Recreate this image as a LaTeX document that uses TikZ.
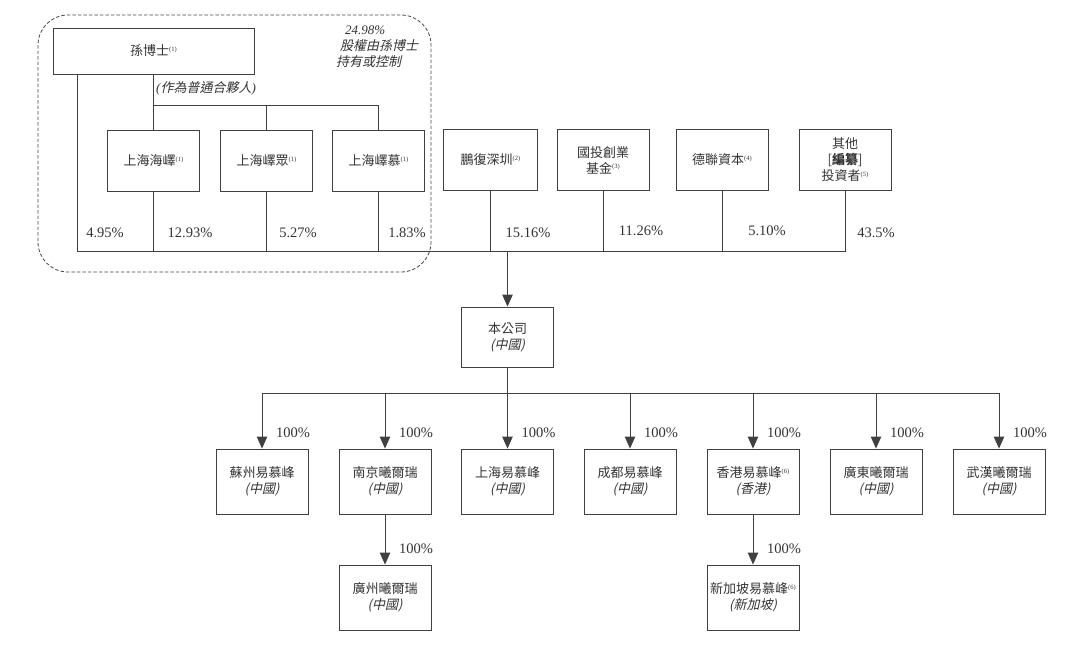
\documentclass[tikz,border=0pt]{standalone}
\usepackage{fontspec}
\setmainfont{Liberation Serif}
\newfontfamily\cjk{Noto Sans CJK TC}
\newfontfamily\cjkit{Noto Sans CJK TC}[FakeSlant=0.22]
\usetikzlibrary{arrows.meta}
\definecolor{lc}{gray}{0.25}
\definecolor{tc}{gray}{0.2}
\definecolor{dc}{gray}{0.28}
\newcommand\fn[1]{\raisebox{0.6ex}{\rmfamily\fontsize{6.5}{6.5}\selectfont(#1)}}
\newcommand\zhi[1]{{\cjkit #1}}
\begin{document}
\begin{tikzpicture}[x=1pt,y=-1pt,
  ln/.style={draw=lc, line width=0.9pt},
  arr/.style={ln, -{Triangle[width=10.5pt,length=12pt]}},
  box/.style={draw=lc, line width=0.9pt, minimum width=92pt, minimum height=61pt,
    align=center, inner sep=1pt, text=tc, font=\fontsize{13}{17.5}\selectfont\cjk},
  sbox/.style={box, minimum height=65pt},
  pct/.style={text=tc, font=\fontsize{14.5}{14.5}\selectfont, inner sep=0pt},
  note/.style={text=tc, font=\fontsize{13}{15}\selectfont\cjkit, inner sep=0pt}]
\useasboundingbox (0,0) rectangle (1080,654);

% dashed group
\draw[dc, line width=0.8pt, dash pattern=on 3.5pt off 2pt, rounded corners=30pt]
  (38,15) rectangle (431,272);

% shareholders
\node[box, minimum width=201pt, minimum height=46pt] (sun) at (153.5,51) {孫博士\fn{1}};
\node[box] (hai1) at (153.5,160.5) {上海海嶧\fn{1}};
\node[box] (hai2) at (266.5,160.5) {上海嶧眾\fn{1}};
\node[box] (hai3) at (378.5,160.5) {上海嶧慕\fn{1}};
\node[box, minimum width=94pt] (pf) at (490.5,160) {鵬復深圳\fn{2}};
\node[box] (gt) at (603,160) {國投創業\\[-1.5pt]基金\fn{3}};
\node[box] (dl) at (722,160) {德聯資本\fn{4}};
\node[box, font=\fontsize{13}{16}\selectfont\cjk] (qt) at (845,160) {其他\\{[}{\bfseries 編纂}{]}\\投資者\fn{5}};

\node[note, anchor=west, font=\fontsize{13}{15}\selectfont\rmfamily\itshape] (gpn) at (156,88) {(\zhi{作為普通合夥人})};
\node[note, anchor=west, align=left, font=\fontsize{13}{15}\selectfont\cjkit] (ctl) at (336,47) {\hspace*{9pt}{\rmfamily\itshape 24.98\%}\\[1pt]\hspace*{4pt}股權由孫博士\\[1pt]持有或控制};

% company
\node[box, minimum height=60pt] (co) at (507.5,337) {本公司\\[-1.5pt]\zhi{(中國)}};

% subsidiaries
\node[sbox] (s1) at (262,481.5) {蘇州易慕峰\\[-1.5pt]\zhi{(中國)}};
\node[sbox] (s2) at (385,481.5) {南京曦爾瑞\\[-1.5pt]\zhi{(中國)}};
\node[sbox] (s3) at (507.5,481.5) {上海易慕峰\\[-1.5pt]\zhi{(中國)}};
\node[sbox] (s4) at (630,481.5) {成都易慕峰\\[-1.5pt]\zhi{(中國)}};
\node[sbox] (s5) at (753,481.5) {香港易慕峰\fn{6}\\[-1.5pt]\zhi{(香港)}};
\node[sbox] (s6) at (876,481.5) {廣東曦爾瑞\\[-1.5pt]\zhi{(中國)}};
\node[sbox] (s7) at (999,481.5) {武漢曦爾瑞\\[-1.5pt]\zhi{(中國)}};
\node[sbox] (g1) at (385,597.5) {廣州曦爾瑞\\[-1.5pt]\zhi{(中國)}};
\node[sbox] (g2) at (753,597.5) {新加坡易慕峰\fn{6}\\[-1.5pt]\zhi{(新加坡)}};

% connectors top
\coordinate (busL) at (77,251);
\coordinate (gp) at (153.5,105);
\coordinate (bus2) at (507.5,393);
\draw[ln] (sun.south -| busL) -- (busL);
\draw[ln] (qt.south) |- (busL);
\foreach \n in {hai1,hai2,hai3,pf,gt,dl} \draw[ln] (\n.south) -- (\n.south |- busL);
\draw[ln] (sun.south -| hai1) -- (hai1.north);
\draw[ln] (gp) -| (hai3.north);
\draw[ln] (hai2 |- gp) -- (hai2.north);
\draw[arr] (co |- busL) -- (co.north);

% connectors bottom
\draw[ln] (co.south) -- (bus2);
\draw[ln] (s1 |- bus2) -- (s7 |- bus2);
\foreach \n in {s1,s2,s3,s4,s5,s6,s7} \draw[arr] (\n |- bus2) -- (\n.north);
\draw[arr] (s2.south) -- (g1.north);
\draw[arr] (s5.south) -- (g2.north);

% percentages
\node[pct] (p1) at (105,233) {4.95\%};
\node[pct] (p2) at (190,233) {12.93\%};
\node[pct] (p3) at (298,233) {5.27\%};
\node[pct] (p4) at (407,233) {1.83\%};
\node[pct] (p5) at (528,233) {15.16\%};
\node[pct] (p6) at (641,231) {11.26\%};
\node[pct] (p7) at (767,231) {5.10\%};
\node[pct] (p8) at (876,233) {43.5\%};
\foreach \n in {s1,s2,s3,s4,s5,s6,s7}
  \node[pct, anchor=west] (l\n) at ([xshift=14pt]\n |- 0,433) {100\%};
\node[pct, anchor=west] (lg1) at ([xshift=14pt]g1 |- 0,549) {100\%};
\node[pct, anchor=west] (lg2) at ([xshift=14pt]g2 |- 0,549) {100\%};
\end{tikzpicture}
\end{document}
